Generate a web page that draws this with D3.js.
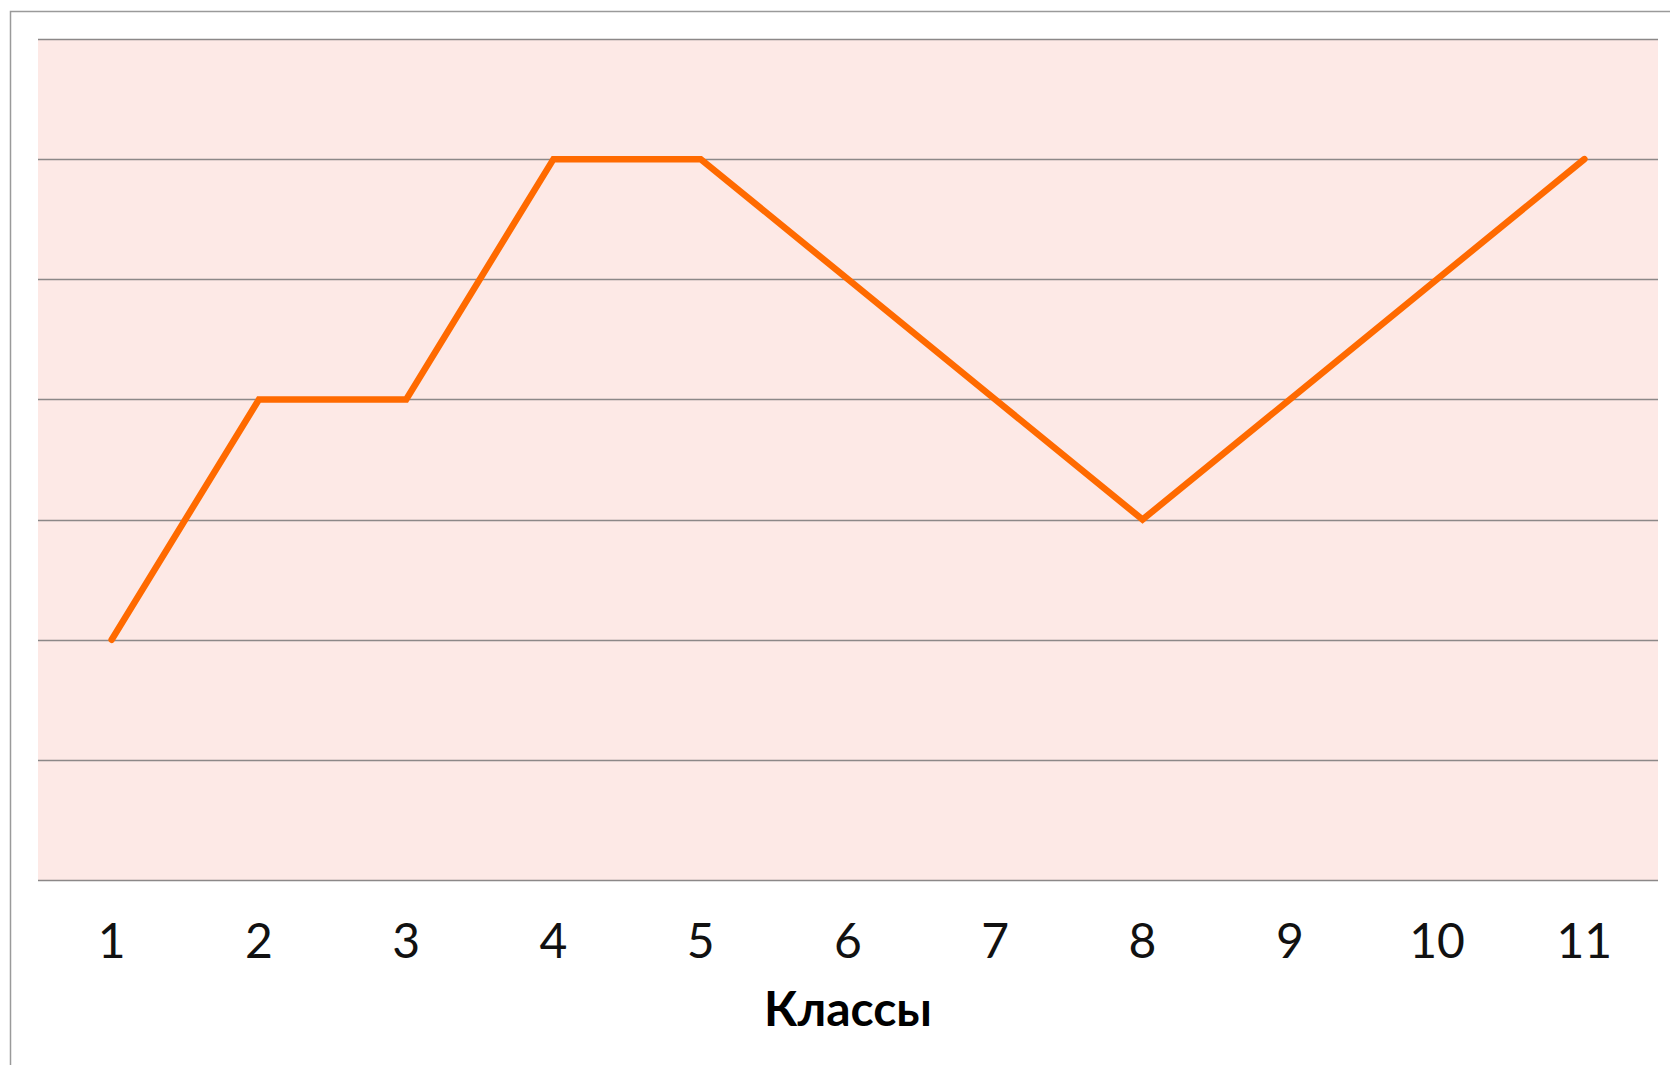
<!DOCTYPE html>
<html>
<head>
<meta charset="utf-8">
<script src="https://cdn.jsdelivr.net/npm/d3@7"></script>
<style>
  body { margin: 0; background: #fff; }
  svg { display: block; }
</style>
</head>
<body>
<svg id="chart" width="1670" height="1065"></svg>
<script>
// classes on the x axis and the value for each
var classes = ["1", "2", "3", "4", "5", "6", "7", "8", "9", "10", "11"];
var values = [2, 4, 4, 6, 6, 5, 4, 3, 4, 5, 6];
var yTicks = [0, 1, 2, 3, 4, 5, 6, 7];
var xTitle = "Классы";

var svg = d3.select("#chart");

// outer frame (runs off the right and bottom edges)
svg.append("path")
  .attr("d", "M10.5,1065 L10.5,11.5 L1670,11.5")
  .attr("fill", "none")
  .attr("stroke", "#9a9a9a")
  .attr("stroke-width", 1.5);

// plot box ("top" is taken by window.top, so use other names)
var plotLeft = 38, plotRight = 1658, plotTop = 39, plotBottom = 880;

var x = d3.scaleBand().domain(classes).range([plotLeft, plotRight]);
var y = d3.scaleLinear().domain([0, 7]).range([plotBottom, plotTop]);

// plot background
svg.append("rect")
  .attr("x", plotLeft)
  .attr("y", plotTop)
  .attr("width", plotRight - plotLeft)
  .attr("height", plotBottom - plotTop)
  .attr("fill", "#fde9e6");

// horizontal grid lines
svg.append("g")
  .selectAll("line")
  .data(yTicks)
  .enter()
  .append("line")
  .attr("x1", plotLeft)
  .attr("x2", plotRight)
  .attr("y1", d => Math.round(y(d)) + 0.5)
  .attr("y2", d => Math.round(y(d)) + 0.5)
  .attr("stroke", "#8c8888")
  .attr("stroke-width", 1.3);

// x axis labels
var xAxis = d3.axisBottom(x).tickSize(0).tickPadding(0);
var gx = svg.append("g")
  .attr("transform", "translate(0," + plotBottom + ")")
  .call(xAxis);
gx.select(".domain").remove();
gx.selectAll("text")
  .attr("y", 78)
  .attr("dy", 0)
  .attr("font-family", "Lato, 'Open Sans', sans-serif")
  .attr("font-weight", 400)
  .attr("font-size", 48)
  .attr("fill", "#111");

// the line
var line = d3.line()
  .x((d, i) => x(classes[i]) + x.bandwidth() / 2)
  .y(d => y(d));

svg.append("path")
  .datum(values)
  .attr("d", line)
  .attr("fill", "none")
  .attr("stroke", "#ff6a00")
  .attr("stroke-width", 6.5)
  .attr("stroke-linejoin", "miter")
  .attr("stroke-linecap", "round");

// axis title
svg.append("text")
  .attr("x", (plotLeft + plotRight) / 2)
  .attr("y", 1026)
  .attr("text-anchor", "middle")
  .attr("font-family", "Lato, 'Open Sans', sans-serif")
  .attr("font-weight", "bold")
  .attr("font-size", 48)
  .attr("fill", "#000")
  .text(xTitle);
</script>
</body>
</html>
